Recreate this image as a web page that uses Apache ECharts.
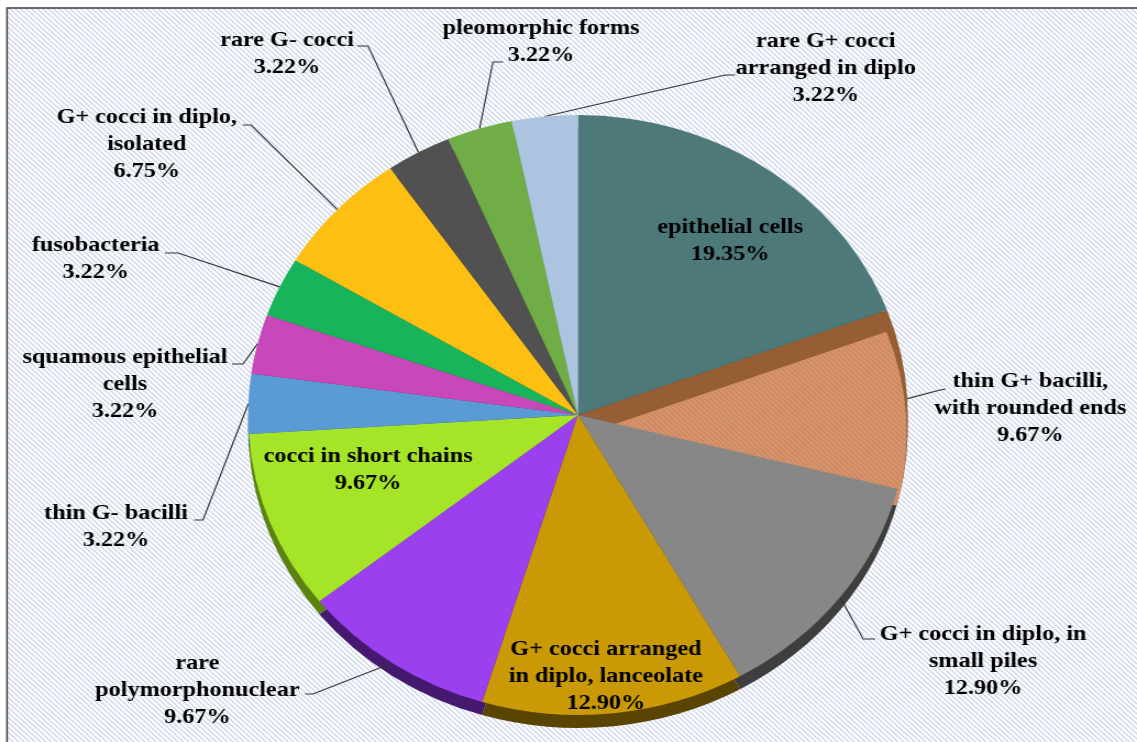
<!DOCTYPE html>
<html><head><meta charset="utf-8">
<script src="https://cdn.jsdelivr.net/npm/echarts@6/dist/echarts.min.js"></script>
<style>
html,body{margin:0;padding:0;background:#fff;overflow:hidden}
#chart{width:1034px;height:742px;transform:scaleX(1.09961);transform-origin:0 0}
</style>
</head><body><div id="chart"></div>
<script>
// ---- data ----
const categories = [
  'epithelial cells',
  'thin G+ bacilli, with rounded ends',
  'G+ cocci in diplo, in small piles',
  'G+ cocci arranged in diplo, lanceolate',
  'rare polymorphonuclear',
  'cocci in short chains',
  'thin G- bacilli',
  'squamous epithelial cells',
  'fusobacteria',
  'G+ cocci in diplo, isolated',
  'rare G- cocci',
  'pleomorphic forms',
  'rare G+ cocci arranged in diplo'
];
const values = [19.35, 9.67, 12.90, 12.90, 9.67, 9.67, 3.22, 3.22, 3.22, 6.75, 3.22, 3.22, 3.22];
const labelTexts = [
  'epithelial cells',
  'thin G+ bacilli,\nwith rounded ends',
  'G+ cocci in diplo, in\nsmall piles',
  'G+ cocci arranged\nin diplo, lanceolate',
  'rare\npolymorphonuclear',
  'cocci in short chains',
  'thin G- bacilli',
  'squamous epithelial\ncells',
  'fusobacteria',
  'G+ cocci in diplo,\nisolated',
  'rare G- cocci',
  'pleomorphic forms',
  'rare G+ cocci\narranged in diplo'
];
const insideLabels = [0, 3, 5];
const raisedIdx = 1; // slice drawn with a visible side wall

// ---- styles ----
const colors = ['#4E797A', 'HATCH', '#878787', '#CA9A06', '#9A40EE', '#A5E426', '#5B9BD5',
  '#C848B9', '#17B45B', '#FDC012', '#515151', '#70AD47', '#ADC4E0'];
const sideColors = ['#2C4546', '#7A4C2E', '#3E3E3E', '#5A4402', '#44196E', '#5C8212', '#2F5C85',
  '#6E2165', '#0B6432', '#8A6805', '#2A2A2A', '#3E6326', '#6A7E97'];
const wallColor = '#955F33';
const CX = 525.6, CY = 415, R = 300;

// label layout (positions of label text and bends of leader lines)
const labelPos = {
  0: [664, 241], 1: [937, 408], 2: [894, 661], 3: [551, 676], 4: [179.5, 690],
  5: [334.7, 470], 6: [105.5, 527], 7: [113.7, 384], 8: [87, 259], 9: [133.5, 144],
  10: [261, 54], 11: [492, 42], 12: [751, 68]
};
const lineBend = {
  1: [[855, 390], [860, 389]],
  2: [[785, 639], [796, 639]],
  4: [[284.6, 694], [277.4, 694]],
  6: [[184.6, 520], [176.4, 520]],
  7: [[221, 364], [211, 364]],
  8: [[162, 253], [150, 253]],
  9: [[228.3, 125], [221, 125]],
  10: [[334.7, 46], [324.7, 46]],
  11: [[448.3, 62], [457.4, 62]],
  12: [[659.3, 75], [668.4, 75]]
};

function makeHatch(bg, line, s, w) {
  const c = document.createElement('canvas');
  c.width = s; c.height = s;
  const ctx = c.getContext('2d');
  ctx.fillStyle = bg; ctx.fillRect(0, 0, s, s);
  ctx.strokeStyle = line; ctx.lineWidth = w;
  [-s, 0, s].forEach(function (o) {
    ctx.beginPath(); ctx.moveTo(-1, -1 + o); ctx.lineTo(s + 1, s + 1 + o); ctx.stroke();
  });
  return c;
}
const bgPattern = { type: 'pattern', image: makeHatch('#ffffff', '#CDD6E9', 5, 1.3), repeat: 'repeat' };
const orangePattern = { type: 'pattern', image: makeHatch('#D18A60', '#D69C7C', 5, 1.1), repeat: 'repeat' };
const CLEAR = 'rgba(0,0,0,0)';

function colorOf(i) { return colors[i] === 'HATCH' ? orangePattern : colors[i]; }

const mainData = values.map(function (v, i) {
  const d = {
    name: categories[i], value: v,
    itemStyle: { color: i === raisedIdx ? CLEAR : colorOf(i) }
  };
  if (insideLabels.indexOf(i) >= 0) {
    d.label = { position: 'inside' };
    d.labelLine = { show: false };
  }
  return d;
});
const sideData = values.map(function (v, i) {
  return { name: categories[i], value: v, itemStyle: { color: sideColors[i] } };
});
const wallData = values.map(function (v, i) {
  return { name: categories[i], value: v, itemStyle: { color: i === raisedIdx ? wallColor : CLEAR } };
});
const faceData = values.map(function (v, i) {
  return { name: categories[i], value: v, itemStyle: { color: i === raisedIdx ? colorOf(i) : CLEAR } };
});

const basePie = {
  type: 'pie', startAngle: 90, clockwise: true, avoidLabelOverlap: false,
  itemStyle: { borderWidth: 0 }, emphasis: { disabled: true }
};
function pie(extra) { return Object.assign({}, basePie, extra); }

const chart = echarts.init(document.getElementById('chart'), null, { renderer: 'canvas' });
chart.setOption({
  animation: false,
  backgroundColor: '#ffffff',
  graphic: [{
    type: 'rect', z: 0, silent: true,
    shape: { x: 6.4, y: 8, width: 1100, height: 800 },
    style: { fill: bgPattern, stroke: '#3a3a3a', lineWidth: 1.5 }
  }],
  series: [
    pie({ silent: true, z: 1, center: [CX, CY + 13], radius: R,
      label: { show: false }, labelLine: { show: false }, data: sideData }),
    pie({ silent: true, z: 2, center: [CX, CY], radius: R,
      label: { show: false }, labelLine: { show: false }, data: wallData }),
    pie({ silent: true, z: 3, center: [CX + 7, CY + 19], radius: R - 8,
      label: { show: false }, labelLine: { show: false }, data: faceData }),
    pie({
      z: 4, center: [CX, CY], radius: R,
      label: {
        show: true, position: 'outside',
        fontFamily: 'Liberation Serif', fontWeight: 'bold', fontSize: 22, lineHeight: 27,
        color: '#000000', align: 'center',
        formatter: function (p) {
          return labelTexts[p.dataIndex] + '\n' + values[p.dataIndex].toFixed(2) + '%';
        }
      },
      labelLine: { show: true, lineStyle: { color: '#333333', width: 1.2 } },
      labelLayout: function (params) {
        const i = params.dataIndex;
        const pos = labelPos[i];
        const res = { x: pos[0], y: pos[1], align: 'center', verticalAlign: 'middle' };
        if (lineBend[i] && params.labelLinePoints) {
          res.labelLinePoints = [params.labelLinePoints[0], lineBend[i][0], lineBend[i][1]];
        }
        return res;
      },
      data: mainData
    })
  ]
});
</script>
</body></html>
